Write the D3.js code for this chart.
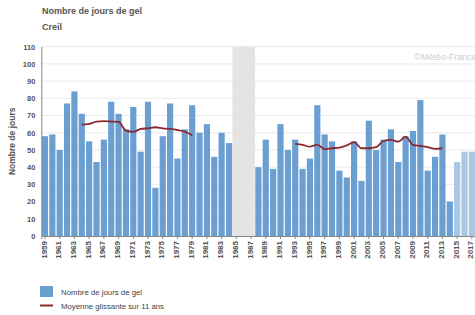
<!DOCTYPE html>
<html>
<head>
<meta charset="utf-8">
<script src="https://cdn.jsdelivr.net/npm/d3@7"></script>
<style>
  body { margin: 0; background: #fff; }
  svg { display: block; font-family: "Liberation Sans", Arial, sans-serif; }
</style>
</head>
<body>
<svg id="chart"></svg>
<script>
// data
var years = d3.range(1959, 2019)
var frostDays = [58, 59, 50, 77, 84, 71, 55, 43, 56, 78,
                 71, 62, 75, 49, 78, 28, 58, 77, 45, 62,
                 76, 60, 65, 46, 60, 54, null, null, null, 40,
                 56, 39, 65, 50, 56, 39, 45, 76, 59, 55,
                 38, 34, 55, 32, 67, 50, 56, 62, 43, 58,
                 61, 79, 38, 46, 59, 20, 43, 49, 49, null]
var provisional = [2015, 2016, 2017]
var missingYears = [1985, 1986, 1987]
var avgYearsA = d3.range(1964, 1980)
var avgA = [64.7, 65.1, 66.5, 66.7, 66.5, 66.3, 61.2, 60.5, 62.2, 62.6, 63.2, 62.6, 62.2, 61.6, 60.7, 58.5]
var avgYearsB = d3.range(1993, 2014)
var avgB = [53.5, 52.9, 51.9, 53.1, 50.4, 51, 51.4, 52.7, 54.5, 51, 51, 51.6, 55.2, 55.8, 54.8, 57.8, 52.9, 52.3, 51.6, 50.6, 51]
var yTicks = d3.range(0, 111, 10)

var width = 475, height = 315
var plotLeft = 41.3, plotTop = 46.7, plotBottom = 236
var step = 7.36

var svg = d3.select("#chart").attr("width", width).attr("height", height)

var x = d3.scaleBand()
    .domain(years)
    .range([plotLeft, plotLeft + years.length * step])
    .paddingInner(0.16)
    .paddingOuter(0.08)
var y = d3.scaleLinear().domain([0, 110]).range([plotBottom, plotTop])

// titles
svg.append("text").attr("x", 42).attr("y", 14)
    .attr("font-size", 9).attr("font-weight", "bold").attr("fill", "#555")
    .text("Nombre de jours de gel")
svg.append("text").attr("x", 42).attr("y", 30)
    .attr("font-size", 9).attr("font-weight", "bold").attr("fill", "#555")
    .text("Creil")

// grid
svg.append("g")
    .selectAll("line")
    .data(yTicks.filter(d => d > 0))
    .join("line")
    .attr("x1", plotLeft).attr("x2", width)
    .attr("y1", d => y(d)).attr("y2", d => y(d))
    .attr("stroke", "#ebebeb")

// missing years band
var bandX0 = x(missingYears[0]) - x.step() * 0.12
var bandX1 = x(missingYears[missingYears.length - 1]) + x.bandwidth() + x.step() * 0.12
svg.append("rect")
    .attr("x", bandX0)
    .attr("width", bandX1 - bandX0)
    .attr("y", y(110)).attr("height", plotBottom - y(110))
    .attr("fill", "#e4e4e4")

// watermark (cut by the right edge, as in the source)
svg.append("text").attr("x", 414).attr("y", 60)
    .attr("font-size", 9).attr("fill", "#cdcdcd")
    .text("©Météo-France")

// bars
svg.append("g")
    .selectAll("rect")
    .data(years.map((yr, i) => ({year: yr, value: frostDays[i]})).filter(d => d.value != null))
    .join("rect")
    .attr("x", d => x(d.year))
    .attr("width", x.bandwidth())
    .attr("y", d => y(d.value))
    .attr("height", d => plotBottom - y(d.value))
    .attr("fill", d => provisional.includes(d.year) ? "#a9c6e4" : "#6b9fd2")

// moving average
var line = d3.line()
    .x(d => x(d[0]) + x.bandwidth() / 2)
    .y(d => y(d[1]))
    .curve(d3.curveMonotoneX)
;[[avgYearsA, avgA], [avgYearsB, avgB]].forEach(function (s) {
    svg.append("path")
        .datum(s[0].map((yr, i) => [yr, s[1][i]]))
        .attr("d", line)
        .attr("fill", "none")
        .attr("stroke", "#8a2a30")
        .attr("stroke-width", 1.8)
})

// y axis
var yAxis = svg.append("g")
    .attr("transform", `translate(${plotLeft},0)`)
    .call(d3.axisLeft(y).tickValues(yTicks).tickSize(0).tickPadding(6))
yAxis.select(".domain").attr("stroke", "#888")
yAxis.selectAll("text").attr("font-size", 7.5).attr("font-weight", "bold").attr("fill", "#555")
    .attr("font-family", "Liberation Sans, Arial, sans-serif")

svg.append("text")
    .attr("transform", `translate(15,${(plotTop + plotBottom) / 2}) rotate(-90)`)
    .attr("text-anchor", "middle")
    .attr("font-size", 8.5).attr("font-weight", "bold").attr("fill", "#555")
    .text("Nombre de jours")

// x axis
var xAxis = svg.append("g")
    .attr("transform", `translate(0,${plotBottom})`)
    .call(d3.axisBottom(x).tickValues(years.filter(d => d % 2 == 1)).tickSize(3).tickPadding(2))
xAxis.select(".domain").attr("stroke", "#888")
xAxis.selectAll(".tick line").attr("stroke", "#888")
xAxis.selectAll("text")
    .attr("font-size", 8).attr("font-weight", "bold").attr("fill", "#555")
    .attr("font-family", "Liberation Sans, Arial, sans-serif")
    .attr("transform", "rotate(-90)")
    .attr("text-anchor", "end")
    .attr("dy", "0.32em")
    .attr("x", -5).attr("y", -1)

// legend
svg.append("rect").attr("x", 40).attr("y", 286).attr("width", 13).attr("height", 11)
    .attr("fill", "#6b9fd2")
svg.append("text").attr("x", 61).attr("y", 294.5)
    .attr("font-size", 7.8).attr("fill", "#444")
    .text("Nombre de jours de gel")
svg.append("line").attr("x1", 40).attr("x2", 53).attr("y1", 305.5).attr("y2", 305.5)
    .attr("stroke", "#8a2a30").attr("stroke-width", 2)
svg.append("text").attr("x", 61).attr("y", 308.5)
    .attr("font-size", 7.8).attr("fill", "#444")
    .text("Moyenne glissante sur 11 ans")
</script>
</body>
</html>
